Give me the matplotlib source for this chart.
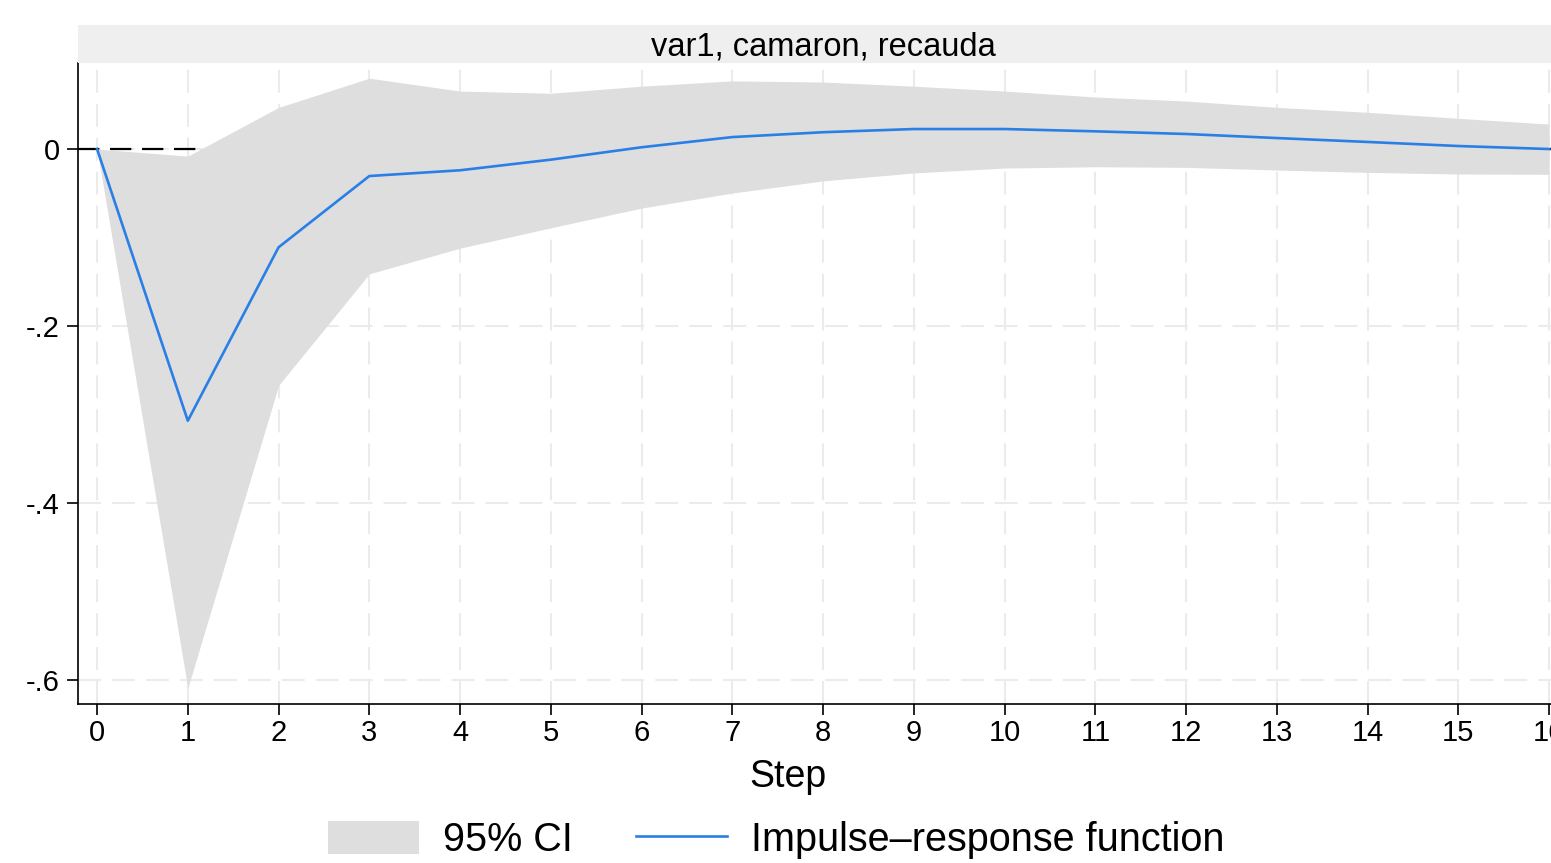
import numpy as np
import matplotlib.pyplot as plt
from matplotlib.patches import Rectangle, Patch
from matplotlib.lines import Line2D

plt.rcParams['font.family'] = ['Liberation Sans', 'DejaVu Sans']

# impulse-response values
step = [0, 1, 2, 3, 4, 5, 6, 7, 8, 9, 10, 11, 12, 13, 14, 15, 16]
irf = [0, -0.307, -0.111, -0.0305, -0.024, -0.012, 0.002, 0.0135, 0.019,
       0.0226, 0.0226, 0.020, 0.017, 0.0124, 0.008, 0.0034, 0.0]
ci_upper = [0, -0.008, 0.047, 0.080, 0.0655, 0.063, 0.071, 0.077, 0.0757,
            0.071, 0.0655, 0.0588, 0.0542, 0.0471, 0.0415, 0.0347, 0.0282]
ci_lower = [0, -0.609, -0.267, -0.141, -0.112, -0.089, -0.0667, -0.0497, -0.036,
            -0.027, -0.0215, -0.020, -0.0207, -0.0237, -0.0264, -0.0282, -0.0286]
yticks = [0, -0.2, -0.4, -0.6]
ytick_labels = ['0', '-.2', '-.4', '-.6']
panel_title = 'var1, camaron, recauda'

W, H = 1551, 863
fig = plt.figure(figsize=(W / 100, H / 100), dpi=100)
ax = fig.add_axes([78 / W, 1 - 704 / H, 1 - 78 / W, (704 - 63) / H])

ax.set_axisbelow(True)
ax.grid(True, color='#ebebeb', linestyle=(0, (11, 5.3)), linewidth=1.5, zorder=0)
ax.axhline(0, color='black', linewidth=1.6, dashes=(9.6, 4.8), zorder=1)
ax.fill_between(step, ci_lower, ci_upper, color='#dedede', linewidth=0, zorder=2)
ax.plot(step, irf, color='#2a7fe6', linewidth=1.9, zorder=3)

ax.set_xlim(-0.21, 16.02)
ax.set_ylim(-0.627, 0.0972)
ax.set_xticks(step)
ax.set_yticks(yticks)
ax.set_yticklabels(ytick_labels)
ax.tick_params(axis='both', direction='out', length=8, width=1.2, labelsize=21, pad=3)
ax.tick_params(axis='y', pad=5)

for s in ['top', 'right']:
    ax.spines[s].set_visible(False)
for s in ['left', 'bottom']:
    ax.spines[s].set_linewidth(1.2)

ax.set_xlabel('Step', fontsize=27, va='center')
ax.xaxis.set_label_coords((788 - 78) / (W - 78), (704 - 777) / (704 - 63))

# strip title above the panel
fig.patches.append(Rectangle((78 / W, 1 - 63 / H), 1 - 78 / W, 38 / H,
                             transform=fig.transFigure, facecolor='#efefef',
                             edgecolor='none'))
fig.text(823 / W, 1 - 47 / H, panel_title, ha='center', va='center', fontsize=23.5)

handles = [Patch(facecolor='#dedede', edgecolor='none'),
           Line2D([], [], color='#2a7fe6', linewidth=1.9)]
fig.legend(handles, ['95% CI', 'Impulse\u2013response function'],
           loc='center', bbox_to_anchor=(776 / W, 1 - 840 / H), ncol=2,
           frameon=False, fontsize=28.5, handlelength=2.3, handleheight=0.9,
           handletextpad=0.6, columnspacing=1.6)

fig.savefig('out.png', dpi=100)
